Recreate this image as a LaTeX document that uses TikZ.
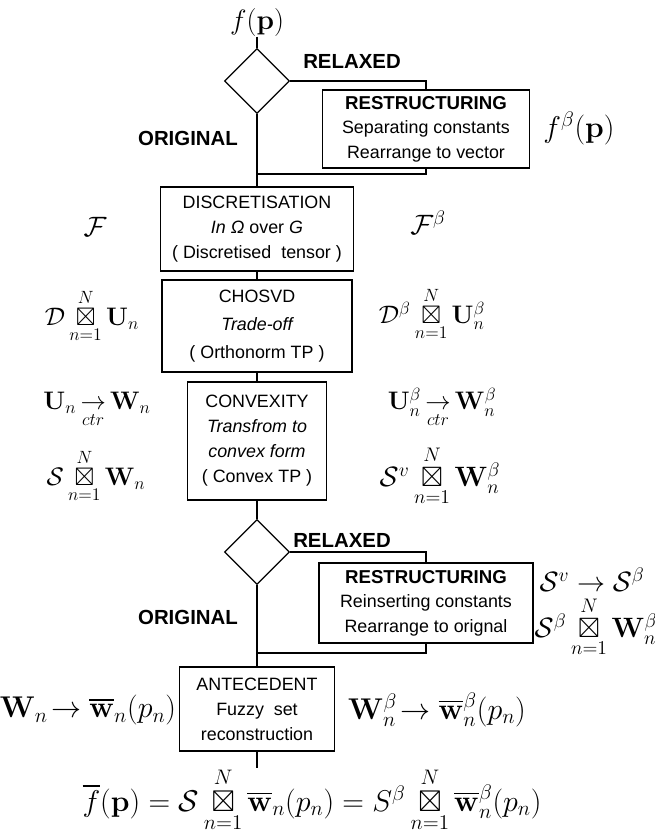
\documentclass[tikz,border=0pt]{standalone}
\usepackage{fix-cm}
\usepackage{amsmath,amssymb}
\usepackage[no-math]{fontspec}
\setmainfont{Liberation Sans}
\usetikzlibrary{shapes.geometric}

\tikzset{every picture/.style={line width=0.9pt}}
\tikzset{
  procbox/.style={draw, align=center, inner sep=0pt, font=\fontsize{13.4}{18.8}\selectfont},
  decision/.style={draw, diamond, inner sep=0pt, minimum width=48.75pt, minimum height=48.75pt},
  branchlbl/.style={font=\fontsize{15.3}{18}\selectfont\bfseries},
  mathlbl/.style={inner sep=0pt, font=\fontsize{21}{25}\selectfont},
  sidemath/.style={mathlbl, font=\fontsize{19}{23}\selectfont},
  bigmath/.style={mathlbl, font=\fontsize{22.5}{27}\selectfont}
}

\begin{document}
\begin{tikzpicture}[x=0.75pt,y=0.75pt,yscale=-1,xscale=1]
\useasboundingbox (0,0) rectangle (655,833);

%Shape: Diamond [id:decision1]
\node (fp) [mathlbl] at (257,22) {$f(\mathbf{p})$};
\node (dec1) [decision] at (257,81) {};
\node (relaxA) [branchlbl] at (352,61) {RELAXED};
\node (origA) [branchlbl] at (188,138) {ORIGINAL};

%Shape: Rectangle [id:restructuring1]
\node (restrA) [procbox, minimum width=155.25pt, minimum height=58.5pt] at (426,129)
  {\fontsize{14}{18}\selectfont\bfseries RESTRUCTURING\\[-1pt] Separating constants\\ Rearrange to vector};
\node (fbeta) [bigmath] at (579,128) {$f^{\beta}(\mathbf{p})$};
\coordinate (joinA) at (257,174);

%Shape: Rectangle [id:discretisation]
\node (disc) [procbox, minimum width=144.75pt, minimum height=63pt] at (257,229)
  {DISCRETISATION\\ {\itshape In Ω} over {\itshape G}\\ ( Discretised\ \ tensor )};
\node (calF) [mathlbl] at (95,227) {$\mathcal{F}$};
\node (calFb) [mathlbl] at (428,223) {$\mathcal{F}^{\beta}$};

%Shape: Rectangle [id:chosvd]
\node (chosvd) [procbox, minimum width=142.5pt, minimum height=69pt, font=\fontsize{13.4}{21}\selectfont] at (257,326)
  {CHOSVD\\ {\itshape Trade-off}\\ ( Orthonorm TP )};
\node (coreD) [sidemath] at (92,316) {$\mathcal{D}\mathop{\boxtimes}\limits_{n=1}^{N}\mathbf{U}_n$};
\node (coreDb) [sidemath] at (432,314) {$\mathcal{D}^{\beta}\mathop{\boxtimes}\limits_{n=1}^{N}\mathbf{U}_n^{\beta}$};

%Shape: Rectangle [id:convexity]
\node (convex) [procbox, minimum width=104.25pt, minimum height=88.5pt] at (257,441)
  {CONVEXITY\\ {\itshape Transfrom to}\\ {\itshape convex form}\\ ( Convex TP )};
\node (ctrA) [sidemath] at (97,410) {$\mathbf{U}_n\mathop{\rightarrow}\limits_{ctr}\mathbf{W}_n$};
\node (ctrB) [sidemath] at (442,408) {$\mathbf{U}_n^{\beta}\mathop{\rightarrow}\limits_{ctr}\mathbf{W}_n^{\beta}$};
\node (coreS) [sidemath] at (96,476) {$\mathcal{S}\mathop{\boxtimes}\limits_{n=1}^{N}\mathbf{W}_n$};
\node (coreSv) [mathlbl] at (440,476) {$\mathcal{S}^{v}\mathop{\boxtimes}\limits_{n=1}^{N}\mathbf{W}_n^{\beta}$};

%Shape: Diamond [id:decision2]
\node (dec2) [decision] at (257,552) {};
\node (relaxB) [branchlbl] at (342,540) {RELAXED};
\node (origB) [branchlbl] at (188,617) {ORIGINAL};

%Shape: Rectangle [id:restructuring2]
\node (restrB) [procbox, minimum width=160.5pt, minimum height=60pt] at (426,603)
  {\fontsize{14}{18}\selectfont\bfseries RESTRUCTURING\\[-1pt] Reinserting constants\\ Rearrange to orignal};
\node (svsb) [mathlbl] at (592,580) {$\mathcal{S}^{v}\rightarrow\mathcal{S}^{\beta}$};
\node (coreSb) [mathlbl] at (596,627) {$\mathcal{S}^{\beta}\mathop{\boxtimes}\limits_{n=1}^{N}\mathbf{W}_n^{\beta}$};
\coordinate (joinB) at (257,653);

%Shape: Rectangle [id:antecedent]
\node (ante) [procbox, minimum width=116.25pt, minimum height=63pt] at (257,709)
  {ANTECEDENT\\ Fuzzy\ \ set\\ reconstruction};
\node (fuzA) [bigmath] at (88,710) {$\mathbf{W}_n\!\rightarrow\overline{\mathbf{w}}_n(p_n)$};
\node (fuzB) [bigmath] at (437,710) {$\mathbf{W}_n^{\beta}\!\rightarrow\overline{\mathbf{w}}_n^{\beta}(p_n)$};
\coordinate (tail) at (257,768);

% Text Node
\node (result) [bigmath] at (312,800)
  {$\overline{f}(\mathbf{p})=\mathcal{S}\mathop{\boxtimes}\limits_{n=1}^{N}\overline{\mathbf{w}}_n(p_n)=S^{\beta}\mathop{\boxtimes}\limits_{n=1}^{N}\overline{\mathbf{w}}_n^{\beta}(p_n)$};

%Straight Lines
\draw (fp.south) -- (dec1.north);
\draw (dec1.east) -| (restrA.north);
\draw (restrA.south) |- (joinA);
\draw (dec1.south) -- (disc.north);
\draw (disc.south) -- (chosvd.north);
\draw (chosvd.south) -- (convex.north);
\draw (convex.south) -- (dec2.north);
\draw (dec2.east) -| (restrB.north);
\draw (restrB.south) |- (joinB);
\draw (dec2.south) -- (ante.north);
\draw (ante.south) -- (tail);

\end{tikzpicture}
\end{document}
